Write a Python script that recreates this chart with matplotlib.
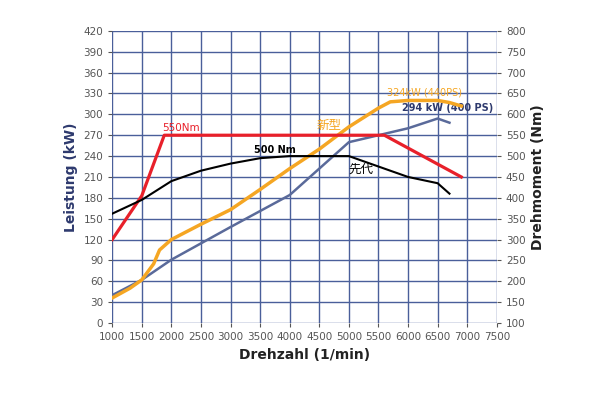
import matplotlib.pyplot as plt

plt.rcParams['font.family'] = ['DejaVu Sans', 'Noto Sans CJK JP']

# new engine power (kW)
rpm_new_kw = [1000, 1300, 1500, 1700, 1800, 2000, 2500, 3000, 3500, 4000, 4500, 5000, 5500, 5700, 6000, 6500, 6700, 6900]
new_kw = [36, 50, 62, 85, 105, 120, 142, 163, 192, 222, 250, 282, 309, 318, 320, 320, 317, 312]
# previous engine power (kW)
rpm_old_kw = [1000, 1500, 2000, 3000, 4000, 5000, 5500, 6000, 6500, 6700]
old_kw = [40, 62, 91, 138, 184, 260, 270, 280, 294, 288]
# new engine torque (Nm)
rpm_new_nm = [1000, 1500, 1880, 5600, 6900]
new_nm = [300, 405, 550, 550, 450]
# previous engine torque (Nm)
rpm_old_nm = [1000, 1500, 2000, 2500, 3000, 3500, 4000, 5000, 5500, 6000, 6500, 6700]
old_nm = [362, 395, 440, 465, 482, 495, 500, 500, 475, 450, 435, 410]

navy = '#2e3a6e'
grid_c = '#4a5f9a'

fig = plt.figure(figsize=(6, 4.12), dpi=100)
ax = fig.add_axes([0.187, 0.216, 0.641, 0.709])
ax2 = ax.twinx()

ax.plot(rpm_new_kw, new_kw, color='#f5a623', lw=2.5, zorder=4)
ax.plot(rpm_old_kw, old_kw, color='#5a6a9a', lw=1.8, zorder=3)
ax2.plot(rpm_new_nm, new_nm, color='#e8202a', lw=2.3)
ax2.plot(rpm_old_nm, old_nm, color='black', lw=1.5)

ax.set_xlim(1000, 7500)
ax.set_ylim(0, 420)
ax2.set_ylim(100, 800)
ax.set_xticks(range(1000, 7501, 500))
ax.set_yticks(range(0, 421, 30))
ax2.set_yticks(range(100, 801, 50))
ax.grid(True, color=grid_c, lw=1)
for a in (ax, ax2):
    a.tick_params(labelsize=7.5, colors='#555555', length=3)
    for s in a.spines.values():
        s.set_visible(False)

ax.set_xlabel('Drehzahl (1/min)', fontsize=10, fontweight='bold', color='#222222')
ax.set_ylabel('Leistung (kW)', fontsize=10, fontweight='bold', color=navy)
ax2.set_ylabel('Drehmoment (Nm)', fontsize=10, fontweight='bold', color='#222222')

ax2.text(1850, 560, '550Nm', color='#e8202a', fontsize=7.5)
ax2.text(3400, 507, '500 Nm', color='black', fontsize=7, fontweight='bold')
ax2.text(5000, 460, '先代', color='black', fontsize=9, family=['Noto Sans CJK JP'])
ax2.text(4450, 565, '新型', color='#f5a623', fontsize=9, family=['Noto Sans CJK JP'])
ax.text(5650, 327, '324kW (440PS)', color='#f5a623', fontsize=7)
ax.text(5900, 305, '294 kW (400 PS)', color=navy, fontsize=7, fontweight='bold')

fig.savefig('out.png')
